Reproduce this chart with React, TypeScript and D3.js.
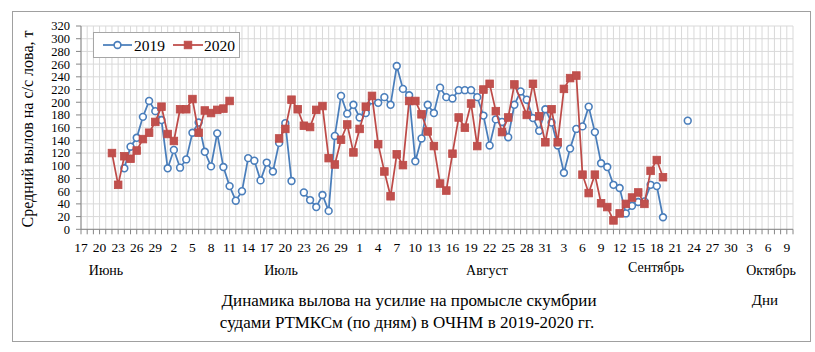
import React from "react";
import * as d3 from "d3";

// ---------- DATA ----------
const axisStart = "06-17";
const axisEnd = "10-10";

const start2019 = "06-24";
// null = no data (line breaks)
const values2019: (number | null)[] = [
  96, 130, 144, 177, 202, 186, 172, // Jun 24-30
  96, 125, 97, 110, 152, 168, 122, 99, 151, 98, 68, 45, 60, 112, 108, 77, 105, 91, 136, 167, 76, null,
  58, 46, 35, 54, 29, 147, 210, 182, 196, // Jul 23-31
  176, 183, 203, 199, 208, 196, 257, 221, 211, 107, 143, 196, 183, 223, 208, 206, 219, 219, 219, 208,
  179, 132, 173, 169, 145, 196, 217, 204, 175, 155, 189, // Aug
  168, 132, 89, 127, 158, 162, 193, 153, 104, 98, 70, 65, 25, 37, 43, 44, 70, 68, 19, // Sep 1-19
  null, null, null, 171, // Sep 20-23
];

const start2020 = "06-22";
const values2020: (number | null)[] = [
  120, 70, 115, 111, 124, 142, 152, 169, 193, // Jun 22-30
  150, 139, 189, 189, 205, 152, 187, 183, 188, 190, 202, // Jul 1-11
  null, null, null, null, null, null, null, // Jul 12-18
  143, 158, 204, 189, 163, 161, 188, 194, 112, 102, 141, 165, 121, // Jul 19-31
  158, 193, 210, 134, 91, 52, 118, 101, 202, 202, 181, 154, 131, 72, 61, 119, 176, 160, 198, 131,
  220, 229, 186, 153, 176, 228, null, 180, 229, 178, 137, // Aug
  189, 137, 221, 238, 242, 86, 57, 86, 41, 35, 14, 25, 40, 50, 58, 40, 92, 109, 82, // Sep 1-19
];
// days without a value that the 2020 line still runs across
const bridged2020 = ["08-27"];

const yTickValues = [0, 20, 40, 60, 80, 100, 120, 140, 160, 180, 200, 220, 240, 260, 280, 300, 320];
const seriesNames = ["2019", "2020"];
const monthNames = ["Июнь", "Июль", "Август", "Сентябрь", "Октябрь"];
const titleLines = [
  "Динамика вылова на усилие на промысле скумбрии",
  "судами РТМКСм (по дням) в ОЧНМ в 2019-2020  гг.",
];
const yTitle = "Средний вылов на с/с лова, т";
const unitLabel = "Дни";

// ---------- LAYOUT ----------
const W = 815;
const H = 352;
const L = 81, R = 793, T = 26, B = 229.3;
const FONT = "Liberation Serif, Tinos, DejaVu Serif, Times New Roman, serif";
const BLUE = "#4A7EBB";
const RED = "#BE4B48";
const RED_FILL = "#C0504D";

const md = (s: string) => {
  const [m, d] = s.split("-").map(Number);
  return new Date(Date.UTC(2020, m - 1, d));
};

const x = d3.scaleUtc().domain([md(axisStart), md(axisEnd)]).range([L, R]);
const y = d3.scaleLinear().domain([0, 320]).range([B, T]);

type Pt = { date: Date; v: number | null; key: string };
const toPoints = (startStr: string, vals: (number | null)[]): Pt[] =>
  vals.map((v, i) => {
    const date = d3.utcDay.offset(md(startStr), i);
    return { date, v, key: d3.utcFormat("%m-%d")(date) };
  });

const pts2019 = toPoints(start2019, values2019);
const pts2020 = toPoints(start2020, values2020).filter((p) => !(p.v === null && bridged2020.includes(p.key)));

const lineGen = d3
  .line<Pt>()
  .defined((p) => p.v !== null)
  .x((p) => x(p.date))
  .y((p) => y(p.v as number));

export default function App() {
  const days = d3.utcDay.range(md(axisStart), d3.utcDay.offset(md(axisEnd), 1));
  const labelDays = d3.utcDay.range(md(axisStart), md(axisEnd), 3);
  const monthPos = [
    { x: 106, y: 275 },
    { x: 281, y: 275 },
    { x: 487, y: 275 },
    { x: 656, y: 272 },
    { x: 771, y: 275 },
  ];
  const txt: React.CSSProperties = { fontFamily: FONT };
  return (
    <svg
      width={W}
      height={H}
      style={{ position: "absolute", left: 0, top: 0, background: "#fff", fontFamily: FONT }}
    >
      <rect x={0} y={0} width={W} height={H} fill="#fff" />
      <rect x={12.5} y={11.5} width={798} height={330} fill="#fff" stroke="#a0a0a0" strokeWidth={1} />

      {/* grid */}
      <g stroke="#d9d9d9" strokeWidth={1}>
        {days.map((d, i) => (
          <line key={"v" + i} x1={x(d)} x2={x(d)} y1={T} y2={B} />
        ))}
        {yTickValues.map((t) => (
          <line key={"h" + t} x1={L} x2={R} y1={y(t)} y2={y(t)} />
        ))}
      </g>

      {/* axes */}
      <g stroke="#868686" strokeWidth={1}>
        <line x1={L} x2={L} y1={T} y2={B} />
        <line x1={L} x2={R} y1={B} y2={B} />
        {yTickValues.map((t) => (
          <line key={"yt" + t} x1={L - 5} x2={L} y1={y(t)} y2={y(t)} />
        ))}
        {days.map((d, i) => (
          <line key={"xt" + i} x1={x(d)} x2={x(d)} y1={B} y2={B + 5} />
        ))}
      </g>
      <g fontSize={12.5} fill="#000" textAnchor="end" style={txt}>
        {yTickValues.map((t) => (
          <text key={"yl" + t} x={L - 11} y={y(t) + 4.4}>
            {t}
          </text>
        ))}
      </g>
      <g fontSize={13.5} fill="#000" textAnchor="middle" style={txt}>
        {labelDays.map((d, i) => (
          <text key={"xl" + i} x={x(d)} y={252}>
            {d3.utcFormat("%-d")(d)}
          </text>
        ))}
      </g>

      {/* series 2019 */}
      <path d={lineGen(pts2019) || ""} fill="none" stroke={BLUE} strokeWidth={1.75} />
      {pts2019
        .filter((p) => p.v !== null)
        .map((p, i) => (
          <circle key={"c" + i} cx={x(p.date)} cy={y(p.v as number)} r={3.4} fill="#fff" stroke={BLUE} strokeWidth={1.6} />
        ))}

      {/* series 2020 */}
      <path d={lineGen(pts2020) || ""} fill="none" stroke={RED} strokeWidth={1.75} />
      {pts2020
        .filter((p) => p.v !== null)
        .map((p, i) => (
          <rect
            key={"s" + i}
            x={x(p.date) - 3.8}
            y={y(p.v as number) - 3.8}
            width={7.6}
            height={7.6}
            fill={RED_FILL}
            stroke={RED}
            strokeWidth={0.8}
          />
        ))}

      {/* legend */}
      <rect x={93.5} y={32.5} width={146} height={25} fill="#fff" stroke="#a6a6a6" />
      <line x1={103} x2={132} y1={45} y2={45} stroke={BLUE} strokeWidth={1.75} />
      <circle cx={117.5} cy={45} r={3.4} fill="#fff" stroke={BLUE} strokeWidth={1.6} />
      <text x={134} y={50.5} fontSize={15.5} style={txt}>{seriesNames[0]}</text>
      <line x1={173} x2={203} y1={45} y2={45} stroke={RED} strokeWidth={1.75} />
      <rect x={184.2} y={41.2} width={7.6} height={7.6} fill={RED_FILL} stroke={RED} strokeWidth={0.8} />
      <text x={204} y={50.5} fontSize={15.5} style={txt}>{seriesNames[1]}</text>

      {/* y title */}
      <text
        transform="translate(33,129) rotate(-90)"
        textAnchor="middle"
        fontSize={16}
        fill="#000"
        style={txt}
      >
        {yTitle}
      </text>

      {/* month labels */}
      <g fontSize={14} textAnchor="middle" fill="#000" style={txt}>
        {monthNames.map((m, i) => (
          <text key={m} x={monthPos[i].x} y={monthPos[i].y}>
            {m}
          </text>
        ))}
      </g>

      {/* title */}
      <g fontSize={17} textAnchor="middle" fill="#000" style={{ ...txt, whiteSpace: "pre" }}>
        <text x={409} y={306}>{titleLines[0]}</text>
        <text x={407} y={328}>{titleLines[1]}</text>
      </g>
      <text x={765} y={305} fontSize={15} textAnchor="middle" fill="#000" style={txt}>
        {unitLabel}
      </text>
    </svg>
  );
}
